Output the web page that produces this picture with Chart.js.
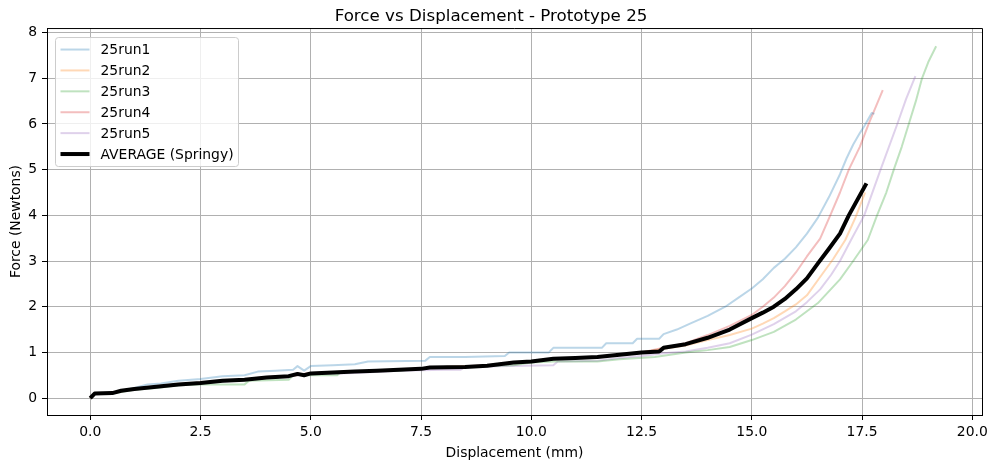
<!DOCTYPE html>
<html>
<head>
<meta charset="utf-8">
<script src="https://cdn.jsdelivr.net/npm/chart.js@4.4.1/dist/chart.umd.min.js"></script>
<style>
  html, body { margin: 0; padding: 0; background: #fff; }
  #wrap { width: 996px; height: 468px; }
</style>
</head>
<body>
<div id="wrap"><canvas id="forceChart" width="996" height="468"></canvas></div>
<script>
// Force vs Displacement - Prototype 25
const run1X = [0, 0.1, 0.5, 1.0, 1.3, 1.6, 2.0, 2.5, 3.0, 3.5, 3.8, 4.2, 4.6, 4.7, 4.85, 5.0, 5.5, 6.0, 6.3, 7.6, 7.7, 8.5, 9.4, 9.5, 10.4, 10.5, 11.6, 11.7, 12.3, 12.4, 12.9, 13.0, 13.3, 13.6, 14.0, 14.4, 14.7, 15.0, 15.25, 15.5, 15.75, 16.0, 16.25, 16.5, 16.75, 17.0, 17.15, 17.3, 17.45, 17.55, 17.72, 17.78];
const run1Y = [0, 0.1, 0.12, 0.22, 0.3, 0.32, 0.38, 0.42, 0.48, 0.5, 0.58, 0.6, 0.62, 0.7, 0.6, 0.7, 0.72, 0.74, 0.8, 0.82, 0.9, 0.9, 0.92, 1.0, 1.0, 1.1, 1.1, 1.2, 1.2, 1.3, 1.3, 1.4, 1.5, 1.63, 1.8, 2.0, 2.2, 2.4, 2.6, 2.85, 3.05, 3.3, 3.6, 3.95, 4.4, 4.9, 5.25, 5.55, 5.8, 5.95, 6.24, 6.22];

const run2X = [0, 0.1, 0.5, 1, 1.5, 2, 2.5, 3, 3.5, 4, 4.5, 5, 6, 7, 8, 9, 9.6, 10, 10.5, 11, 11.5, 12, 12.5, 13, 13.5, 14, 14.5, 15, 15.25, 15.5, 15.75, 16, 16.25, 16.55, 16.85, 17.12, 17.35, 17.57];
const run2Y = [0, 0.1, 0.11, 0.2, 0.25, 0.3, 0.33, 0.38, 0.4, 0.45, 0.48, 0.54, 0.58, 0.62, 0.68, 0.71, 0.78, 0.8, 0.86, 0.88, 0.9, 0.95, 1.0, 1.08, 1.15, 1.27, 1.38, 1.52, 1.63, 1.75, 1.9, 2.05, 2.25, 2.65, 3.05, 3.46, 3.95, 4.5];

const run3X = [0, 0.1, 0.5, 1, 1.5, 2, 2.5, 3.5, 3.6, 4.5, 4.6, 5.0, 5.6, 5.7, 7.0, 7.5, 8.0, 9.0, 9.6, 10.0, 10.5, 11.5, 12.0, 12.8, 13.5, 14.0, 14.5, 15.0, 15.5, 16.0, 16.5, 17.0, 17.3, 17.63, 17.84, 18.05, 18.22, 18.4, 18.56, 18.72, 18.86, 19.0, 19.18];
const run3Y = [0, 0.1, 0.1, 0.18, 0.22, 0.28, 0.3, 0.3, 0.38, 0.4, 0.5, 0.5, 0.5, 0.58, 0.6, 0.65, 0.68, 0.7, 0.72, 0.78, 0.8, 0.8, 0.85, 0.9, 1.0, 1.05, 1.12, 1.27, 1.45, 1.72, 2.08, 2.6, 3.0, 3.46, 4.0, 4.5, 5.0, 5.5, 6.0, 6.5, 7.0, 7.35, 7.7];

const run4X = [0, 0.1, 0.5, 1, 1.5, 2, 2.5, 3, 3.5, 4, 4.5, 5, 6, 7, 8, 9, 9.6, 10, 10.5, 11, 11.5, 12, 12.5, 13, 13.5, 14, 14.5, 15, 15.25, 15.5, 15.75, 16, 16.25, 16.55, 16.78, 17.0, 17.2, 17.45, 17.65, 17.97];
const run4Y = [0, 0.1, 0.11, 0.21, 0.26, 0.31, 0.34, 0.38, 0.41, 0.46, 0.49, 0.55, 0.58, 0.62, 0.68, 0.72, 0.78, 0.8, 0.86, 0.88, 0.9, 0.95, 1.0, 1.1, 1.2, 1.38, 1.58, 1.82, 2.0, 2.2, 2.45, 2.75, 3.1, 3.49, 4.0, 4.5, 5.0, 5.5, 6.0, 6.74];

const run5X = [0, 0.1, 0.5, 1, 1.5, 2, 2.5, 3, 3.5, 4, 4.5, 5, 6, 7, 8, 8.4, 8.5, 9.5, 10.5, 10.6, 11.5, 12, 12.5, 13, 13.5, 14, 14.5, 15, 15.5, 16, 16.25, 16.55, 16.8, 17.0, 17.25, 17.55, 17.92, 18.3, 18.5, 18.71];
const run5Y = [0, 0.1, 0.11, 0.2, 0.25, 0.3, 0.33, 0.36, 0.4, 0.44, 0.47, 0.52, 0.55, 0.6, 0.62, 0.62, 0.68, 0.7, 0.72, 0.8, 0.82, 0.88, 0.92, 0.98, 1.02, 1.1, 1.2, 1.39, 1.62, 1.9, 2.1, 2.38, 2.7, 3.0, 3.46, 4.0, 5.0, 6.0, 6.55, 7.05];

const avgX = [0, 0.1, 0.5, 0.7, 1.0, 1.5, 2.0, 2.5, 3.0, 3.5, 4.0, 4.5, 4.7, 4.85, 5.0, 5.5, 6.0, 6.5, 7.0, 7.5, 7.7, 8.5, 9.0, 9.6, 10.0, 10.5, 11.0, 11.5, 12.0, 12.5, 12.9, 13.0, 13.5, 14.0, 14.5, 15.0, 15.25, 15.5, 15.75, 16.0, 16.25, 16.5, 16.75, 17.0, 17.2, 17.4, 17.6];
const avgY = [0, 0.1, 0.11, 0.16, 0.2, 0.25, 0.3, 0.33, 0.38, 0.4, 0.45, 0.48, 0.53, 0.5, 0.54, 0.56, 0.58, 0.6, 0.62, 0.64, 0.67, 0.68, 0.71, 0.78, 0.8, 0.86, 0.88, 0.9, 0.95, 1.0, 1.02, 1.1, 1.18, 1.32, 1.5, 1.75, 1.87, 2.0, 2.17, 2.38, 2.62, 2.95, 3.27, 3.6, 4.0, 4.35, 4.7];

const runLabels = ['25run1', '25run2', '25run3', '25run4', '25run5'];
const runColors = ['rgba(31,119,180,0.3)', 'rgba(255,127,14,0.3)', 'rgba(44,160,44,0.3)', 'rgba(214,39,40,0.3)', 'rgba(148,103,189,0.3)'];
const xTickStep = 2.5;
const yTickStep = 1;

const FONT = 'DejaVu Sans';

function toPoints(xs, ys) {
    return xs.map((x, i) => ({ x: x, y: ys[i] }));
}

const runsX = [run1X, run2X, run3X, run4X, run5X];
const runsY = [run1Y, run2Y, run3Y, run4Y, run5Y];

const datasets = runLabels.map((label, i) => ({
    label: label,
    data: toPoints(runsX[i], runsY[i]),
    borderColor: runColors[i],
    backgroundColor: runColors[i],
    borderWidth: 2,
    order: 1
}));
datasets.push({
    label: 'AVERAGE (Springy)',
    data: toPoints(avgX, avgY),
    borderColor: '#000',
    backgroundColor: '#000',
    borderWidth: 4,
    order: 0
});

// matplotlib style legend box inside the plot + top/right spines
const mplExtras = {
    id: 'mplExtras',
    afterDatasetsDraw(chart) {
        const ctx = chart.ctx;
        const a = chart.chartArea;
        ctx.save();
        ctx.strokeStyle = '#000';
        ctx.lineWidth = 1;
        ctx.beginPath();
        ctx.moveTo(a.left, a.top + 0.5);
        ctx.lineTo(a.right + 0.5, a.top + 0.5);
        ctx.lineTo(a.right + 0.5, a.bottom);
        ctx.stroke();

        // legend
        const bx = a.left + 8.5, by = a.top + 9.5, bw = 183, bh = 129;
        ctx.globalAlpha = 0.8;
        ctx.fillStyle = '#fff';
        ctx.strokeStyle = '#cccccc';
        ctx.beginPath();
        ctx.roundRect(bx, by, bw, bh, 3);
        ctx.fill();
        ctx.globalAlpha = 1;
        ctx.stroke();

        ctx.font = '13.9px "' + FONT + '"';
        ctx.textBaseline = 'middle';
        chart.data.datasets.forEach((ds, i) => {
            const ry = by + 12 + i * 20.9;
            ctx.strokeStyle = ds.borderColor;
            ctx.lineWidth = ds.borderWidth;
            ctx.beginPath();
            ctx.moveTo(bx + 5, ry);
            ctx.lineTo(bx + 34, ry);
            ctx.stroke();
            ctx.fillStyle = '#000';
            ctx.fillText(ds.label, bx + 45, ry + 1);
        });
        ctx.restore();
    }
};

const ctx = document.getElementById('forceChart').getContext('2d');
const forceChart = new Chart(ctx, {
    type: 'line',
    data: { datasets: datasets },
    options: {
        responsive: false,
        animation: false,
        devicePixelRatio: 1,
        layout: { padding: { top: 0, right: 14, bottom: 0, left: 0 } },
        elements: {
            point: { radius: 0 },
            line: { tension: 0, borderCapStyle: 'butt', borderJoinStyle: 'round' }
        },
        scales: {
            x: {
                type: 'linear',
                min: -0.98,
                max: 20.22,
                afterFit: function(scale) { scale.height = 53; },
                ticks: {
                    stepSize: xTickStep,
                    includeBounds: false,
                    autoSkip: false,
                    maxRotation: 0,
                    color: '#000',
                    padding: 4,
                    font: { family: FONT, size: 13.9 },
                    callback: function(v) { return v.toFixed(1); }
                },
                grid: { color: '#b0b0b0', lineWidth: 1, tickColor: '#000', tickLength: 5, drawTicks: true },
                border: { color: '#000', width: 1 },
                title: {
                    display: true,
                    text: 'Displacement (mm)',
                    color: '#000',
                    font: { family: FONT, size: 13.9 },
                    padding: { top: 0, bottom: 6 }
                }
            },
            y: {
                type: 'linear',
                min: -0.37,
                max: 8.1,
                afterFit: function(scale) { scale.width = 47; },
                ticks: {
                    stepSize: yTickStep,
                    includeBounds: false,
                    color: '#000',
                    padding: 5,
                    font: { family: FONT, size: 13.9 },
                    callback: function(v) { return String(v); }
                },
                grid: { color: '#b0b0b0', lineWidth: 1, tickColor: '#000', tickLength: 5, drawTicks: true },
                border: { color: '#000', width: 1 },
                title: {
                    display: true,
                    text: 'Force (Newtons)',
                    color: '#000',
                    font: { family: FONT, size: 13.9 },
                    padding: { top: 8, bottom: 0 }
                }
            }
        },
        plugins: {
            legend: { display: false },
            tooltip: { enabled: false },
            title: {
                display: true,
                text: 'Force vs Displacement - Prototype 25',
                color: '#000',
                font: { family: FONT, size: 16.7, weight: 'normal' },
                padding: { top: 7, bottom: 1 }
            }
        }
    },
    plugins: [mplExtras]
});
</script>
</body>
</html>
